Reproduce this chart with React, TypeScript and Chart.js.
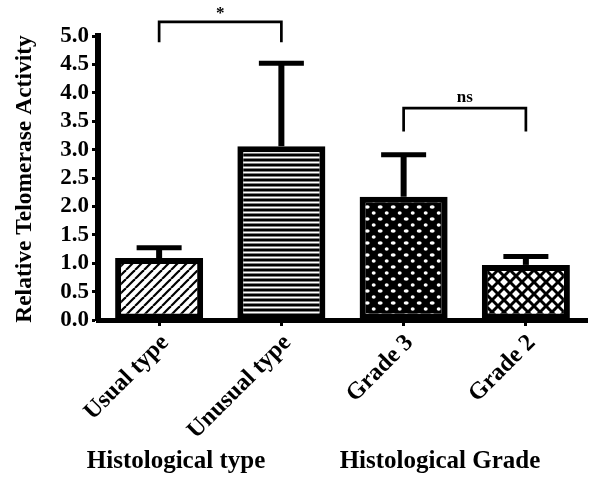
import React, { useEffect, useRef } from "react";
import { Chart, registerables } from "chart.js";

Chart.register(...registerables);

// Relative telomerase activity by histological type and grade
const categories = ["Usual type", "Unusual type", "Grade 3", "Grade 2"];
const means = [1.09, 3.06, 2.17, 0.97];
const upperErrors = [1.27, 4.52, 2.91, 1.12];

const yMin = 0;
const yMax = 5;
const yStep = 0.5;

// Significance brackets: from/to category index, level, drop length, label
const bracketFrom = [0, 2];
const bracketTo = [1, 3];
const bracketLevel = [5.25, 3.73];
const bracketDrop = [0.36, 0.41];
const bracketLabels = ["*", "ns"];

const groupTitles = ["Histological type", "Histological Grade"];
const axisTitle = "Relative Telomerase Activity";

const SERIF = '"Liberation Serif", "Times New Roman", Times, serif';

function tile(
  base: CanvasRenderingContext2D,
  w: number,
  h: number,
  paint: (g: CanvasRenderingContext2D) => void
): CanvasPattern {
  const c = document.createElement("canvas");
  c.width = w;
  c.height = h;
  const g = c.getContext("2d")!;
  paint(g);
  return base.createPattern(c, "repeat")!;
}

function buildPatterns(ctx: CanvasRenderingContext2D): CanvasPattern[] {
  // forward diagonal hatching
  const diag = tile(ctx, 9, 9, (g) => {
    g.fillStyle = "#fff";
    g.fillRect(0, 0, 9, 9);
    g.strokeStyle = "#000";
    g.lineWidth = 2.2;
    for (const k of [-9, 0, 9]) {
      g.beginPath();
      g.moveTo(k, 9);
      g.lineTo(k + 9, 0);
      g.stroke();
    }
  });
  // horizontal stripes
  const horiz = tile(ctx, 4, 5, (g) => {
    g.fillStyle = "#000";
    g.fillRect(0, 0, 4, 5);
    g.fillStyle = "#fff";
    g.fillRect(0, 1.5, 4, 2);
  });
  // staggered white dots on black
  const dots = tile(ctx, 13, 12, (g) => {
    g.fillStyle = "#000";
    g.fillRect(0, 0, 13, 12);
    g.fillStyle = "#fff";
    g.beginPath();
    g.ellipse(3.2, 3, 2.5, 1.8, 0, 0, Math.PI * 2);
    g.fill();
    g.beginPath();
    g.ellipse(9.7, 9, 2, 1.8, 0, 0, Math.PI * 2);
    g.fill();
  });
  // cross hatching
  const cross = tile(ctx, 12, 12, (g) => {
    g.fillStyle = "#fff";
    g.fillRect(0, 0, 12, 12);
    g.strokeStyle = "#000";
    g.lineWidth = 3;
    for (const k of [-12, 0, 12]) {
      g.beginPath();
      g.moveTo(k, 12);
      g.lineTo(k + 12, 0);
      g.stroke();
      g.beginPath();
      g.moveTo(k, 0);
      g.lineTo(k + 12, 12);
      g.stroke();
    }
  });
  return [diag, horiz, dots, cross];
}

const errorBarPlugin = {
  id: "errorBars",
  afterDatasetsDraw(chart: any) {
    const { ctx } = chart;
    const yScale = chart.scales.y;
    const meta = chart.getDatasetMeta(0);
    ctx.save();
    ctx.strokeStyle = "#000";
    meta.data.forEach((bar: any, i: number) => {
      const yErr = yScale.getPixelForValue(upperErrors[i]);
      ctx.lineWidth = 6;
      ctx.beginPath();
      ctx.moveTo(bar.x, bar.y);
      ctx.lineTo(bar.x, yErr);
      ctx.stroke();
      ctx.lineWidth = 5;
      ctx.beginPath();
      ctx.moveTo(bar.x - 22.5, yErr);
      ctx.lineTo(bar.x + 22.5, yErr);
      ctx.stroke();
    });
    ctx.restore();
  },
};

const annotationPlugin = {
  id: "annotations",
  afterDraw(chart: any) {
    const { ctx } = chart;
    const xs = chart.scales.x;
    const ys = chart.scales.y;
    ctx.save();
    ctx.strokeStyle = "#000";
    ctx.fillStyle = "#000";
    ctx.lineWidth = 2.7;
    bracketFrom.forEach((from, i) => {
      const x1 = xs.getPixelForValue(from);
      const x2 = xs.getPixelForValue(bracketTo[i]);
      const yl = ys.getPixelForValue(bracketLevel[i]);
      const yd = ys.getPixelForValue(bracketLevel[i] - bracketDrop[i]);
      ctx.beginPath();
      ctx.moveTo(x1, yd);
      ctx.lineTo(x1, yl);
      ctx.lineTo(x2, yl);
      ctx.lineTo(x2, yd);
      ctx.stroke();
      ctx.textAlign = "center";
      ctx.textBaseline = "alphabetic";
      const star = bracketLabels[i] === "*";
      ctx.font = `bold 17px ${SERIF}`;
      ctx.fillText(bracketLabels[i], (x1 + x2) / 2, yl - (star ? 4 : 6));
    });

    // group titles under the category labels
    ctx.font = `bold 25px ${SERIF}`;
    ctx.textAlign = "center";
    ctx.textBaseline = "middle";
    ctx.fillText(groupTitles[0], 176, 462);
    ctx.fillText(groupTitles[1], 440, 462);

    // vertical axis title
    ctx.translate(25, 179);
    ctx.rotate(-Math.PI / 2);
    ctx.font = `bold 23.5px ${SERIF}`;
    ctx.fillText(axisTitle, 0, 0);
    ctx.restore();
  },
};

export default function App() {
  const canvasRef = useRef<HTMLCanvasElement | null>(null);

  useEffect(() => {
    const canvas = canvasRef.current!;
    const ctx = canvas.getContext("2d")!;
    const patterns = buildPatterns(ctx);

    const chart = new Chart(ctx, {
      type: "bar",
      data: {
        labels: categories,
        datasets: [
          {
            data: means,
            backgroundColor: patterns,
            borderColor: "#000",
            borderWidth: 6,
            borderSkipped: false,
            categoryPercentage: 1,
            barPercentage: 0.72,
          },
        ],
      },
      options: {
        animation: false,
        responsive: false,
        devicePixelRatio: 1,
        layout: { padding: { top: 36, right: 3, left: 0, bottom: 0 } },
        plugins: {
          legend: { display: false },
          tooltip: { enabled: false },
        },
        scales: {
          x: {
            type: "category",
            offset: true,
            border: { display: true, color: "#000", width: 5 },
            grid: {
              display: true,
              offset: false,
              drawOnChartArea: false,
              drawTicks: true,
              tickLength: 6,
              tickWidth: 3,
              tickColor: "#000",
              color: "#000",
            },
            ticks: {
              color: "#000",
              font: { family: SERIF, size: 24, weight: "bold" },
              minRotation: 45,
              maxRotation: 45,
              autoSkip: false,
              padding: 3,
              labelOffset: 6,
            },
            afterFit(scale: any) {
              scale.height = 159;
            },
          },
          y: {
            min: yMin,
            max: yMax,
            border: { display: true, color: "#000", width: 6 },
            grid: {
              display: true,
              drawOnChartArea: false,
              drawTicks: true,
              tickLength: 6,
              tickWidth: 3,
              tickColor: "#000",
              color: "#000",
            },
            ticks: {
              stepSize: yStep,
              autoSkip: false,
              color: "#000",
              padding: 3,
              font: { family: SERIF, size: 23, weight: "bold" },
              callback: (v: any) => Number(v).toFixed(1),
            },
            afterFit(scale: any) {
              scale.width = 98;
            },
          },
        },
      },
      plugins: [errorBarPlugin, annotationPlugin],
    });

    return () => chart.destroy();
  }, []);

  return (
    <div style={{ position: "absolute", left: 0, top: 0, width: 590, height: 479, background: "#fff" }}>
      <canvas ref={canvasRef} width={590} height={479} />
    </div>
  );
}
